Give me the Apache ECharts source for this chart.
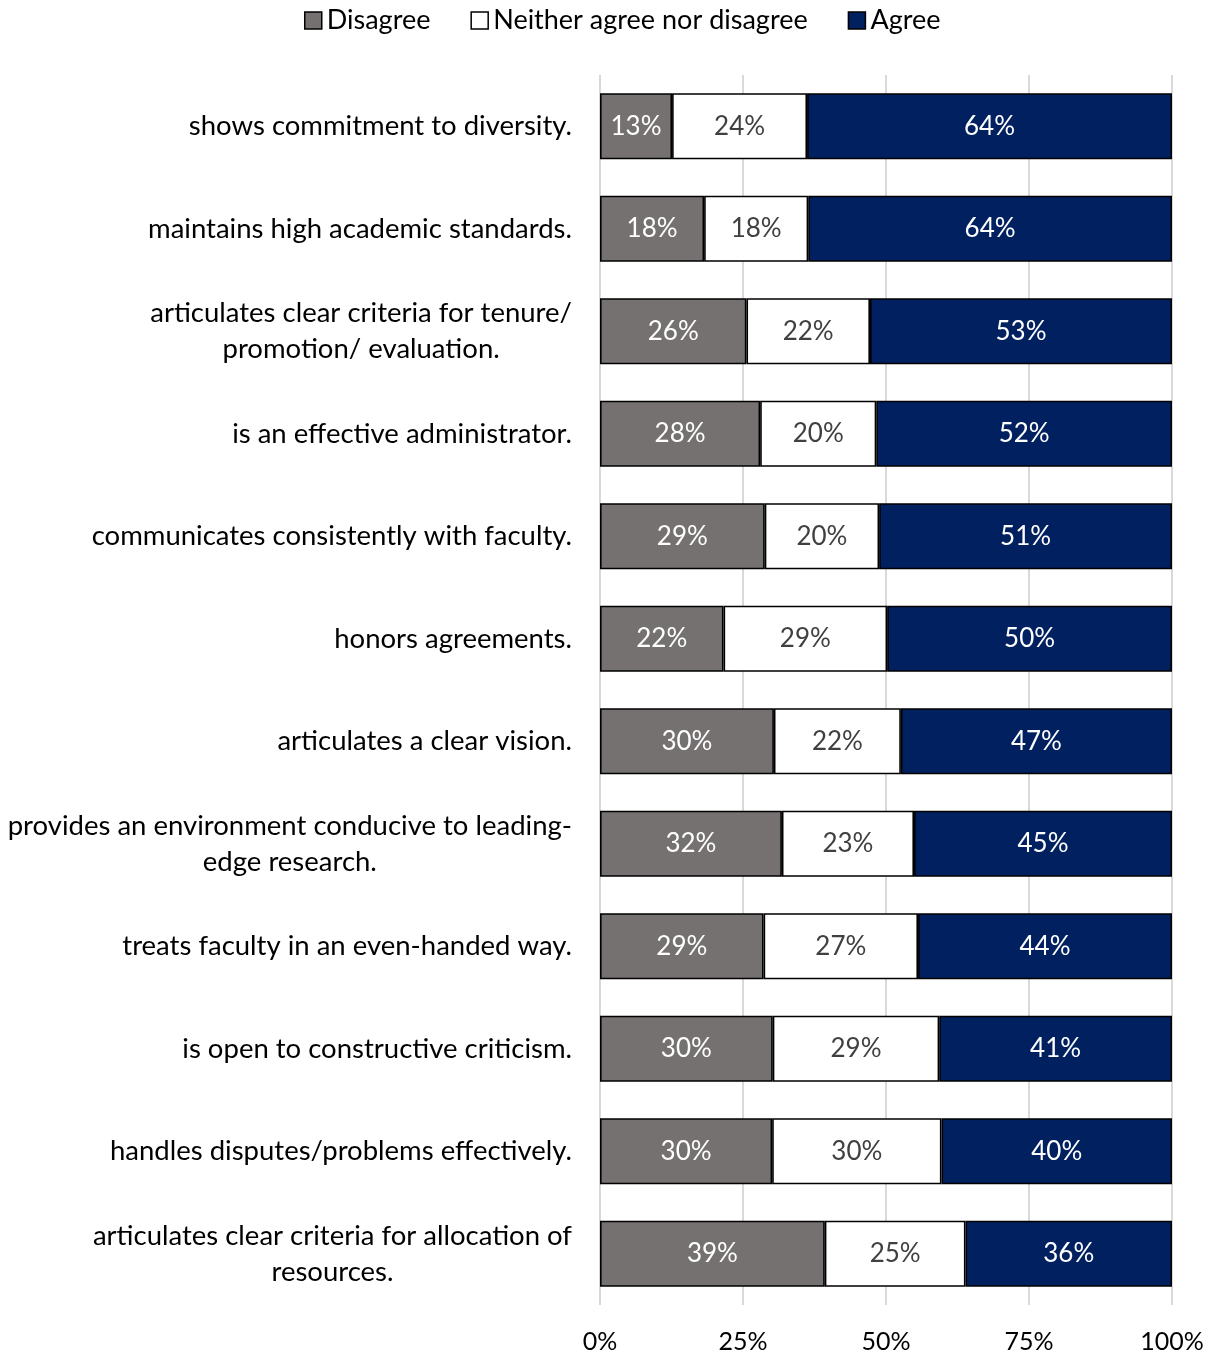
<!DOCTYPE html>
<html><head><meta charset="utf-8">
<script src="https://cdn.jsdelivr.net/npm/echarts@6/dist/echarts.min.js"></script>
<style>html,body{margin:0;padding:0;background:#fff}#c{width:1212px;height:1354px}</style>
</head><body><div id="c"></div>
<script>
const categories = [
  "shows commitment to diversity.",
  "maintains high academic standards.",
  "articulates clear criteria for tenure/\npromotion/ evaluation.",
  "is an effective administrator.",
  "communicates consistently with faculty.",
  "honors agreements.",
  "articulates a clear vision.",
  "provides an environment conducive to leading-\nedge research.",
  "treats faculty in an even-handed way.",
  "is open to constructive criticism.",
  "handles disputes/problems effectively.",
  "articulates clear criteria for allocation of\nresources."
];
const disagree = [12.6, 18.2, 25.6, 28.0, 28.8, 21.6, 30.4, 31.8, 28.6, 30.2, 30.1, 39.3];
const neither  = [23.6, 18.2, 21.6, 20.3, 20.0, 28.6, 22.2, 23.1, 27.0, 29.1, 29.6, 24.6];
const agree    = [63.8, 63.6, 52.8, 51.7, 51.2, 49.8, 47.4, 45.1, 44.4, 40.7, 40.3, 36.1];
const xTicks = [0, 25, 50, 75, 100];

const FONT = 'Lato';
const chart = echarts.init(document.getElementById('c'), null, {renderer: 'canvas'});
function mk(name, data, color, labelColor) {
  return {
    name, type: 'bar', stack: 'all', data, barWidth: 66,
    itemStyle: {color, borderColor: '#000', borderWidth: 1.6},
    label: {show: true, position: 'inside', color: labelColor, fontFamily: FONT, fontSize: 26,
      formatter: p => Math.round(p.value) + '%'},
    emphasis: {disabled: true}
  };
}
chart.setOption({
  animation: false,
  textStyle: {fontFamily: FONT},
  legend: {
    top: 2, left: 299, itemGap: 40, itemWidth: 17, itemHeight: 17,
    textStyle: {fontFamily: FONT, fontSize: 27, color: '#000'},
    data: ['Disagree', 'Neither agree nor disagree', 'Agree'].map(n => ({name: n, icon: 'rect', itemStyle: {borderColor: '#000', borderWidth: 1.5}}))
  },
  grid: {left: 600, right: 40, top: 75, bottom: 49, containLabel: false},
  xAxis: {
    type: 'value', min: 0, max: 100, interval: 25,
    axisLabel: {formatter: v => v + '%', fontFamily: FONT, fontSize: 25, color: '#000', margin: 24},
    splitLine: {lineStyle: {color: '#d9d9d9', width: 2}},
    axisLine: {show: false}, axisTick: {show: false}
  },
  yAxis: {
    type: 'category', data: categories, inverse: true,
    axisLine: {show: false}, axisTick: {show: false},
    axisLabel: {
      margin: 28, fontFamily: FONT, fontSize: 27.5, color: '#000',
      formatter: v => v.split('\n').map(l => '{c|' + l + '}').join('\n'),
      rich: {c: {align: 'center', fontFamily: FONT, fontSize: 27.5, color: '#000', lineHeight: 36}}
    }
  },
  series: [
    mk('Disagree', disagree, '#767171', '#fff'),
    mk('Neither agree nor disagree', neither, '#fff', '#404040'),
    mk('Agree', agree, '#002060', '#fff')
  ]
});
</script></body></html>
